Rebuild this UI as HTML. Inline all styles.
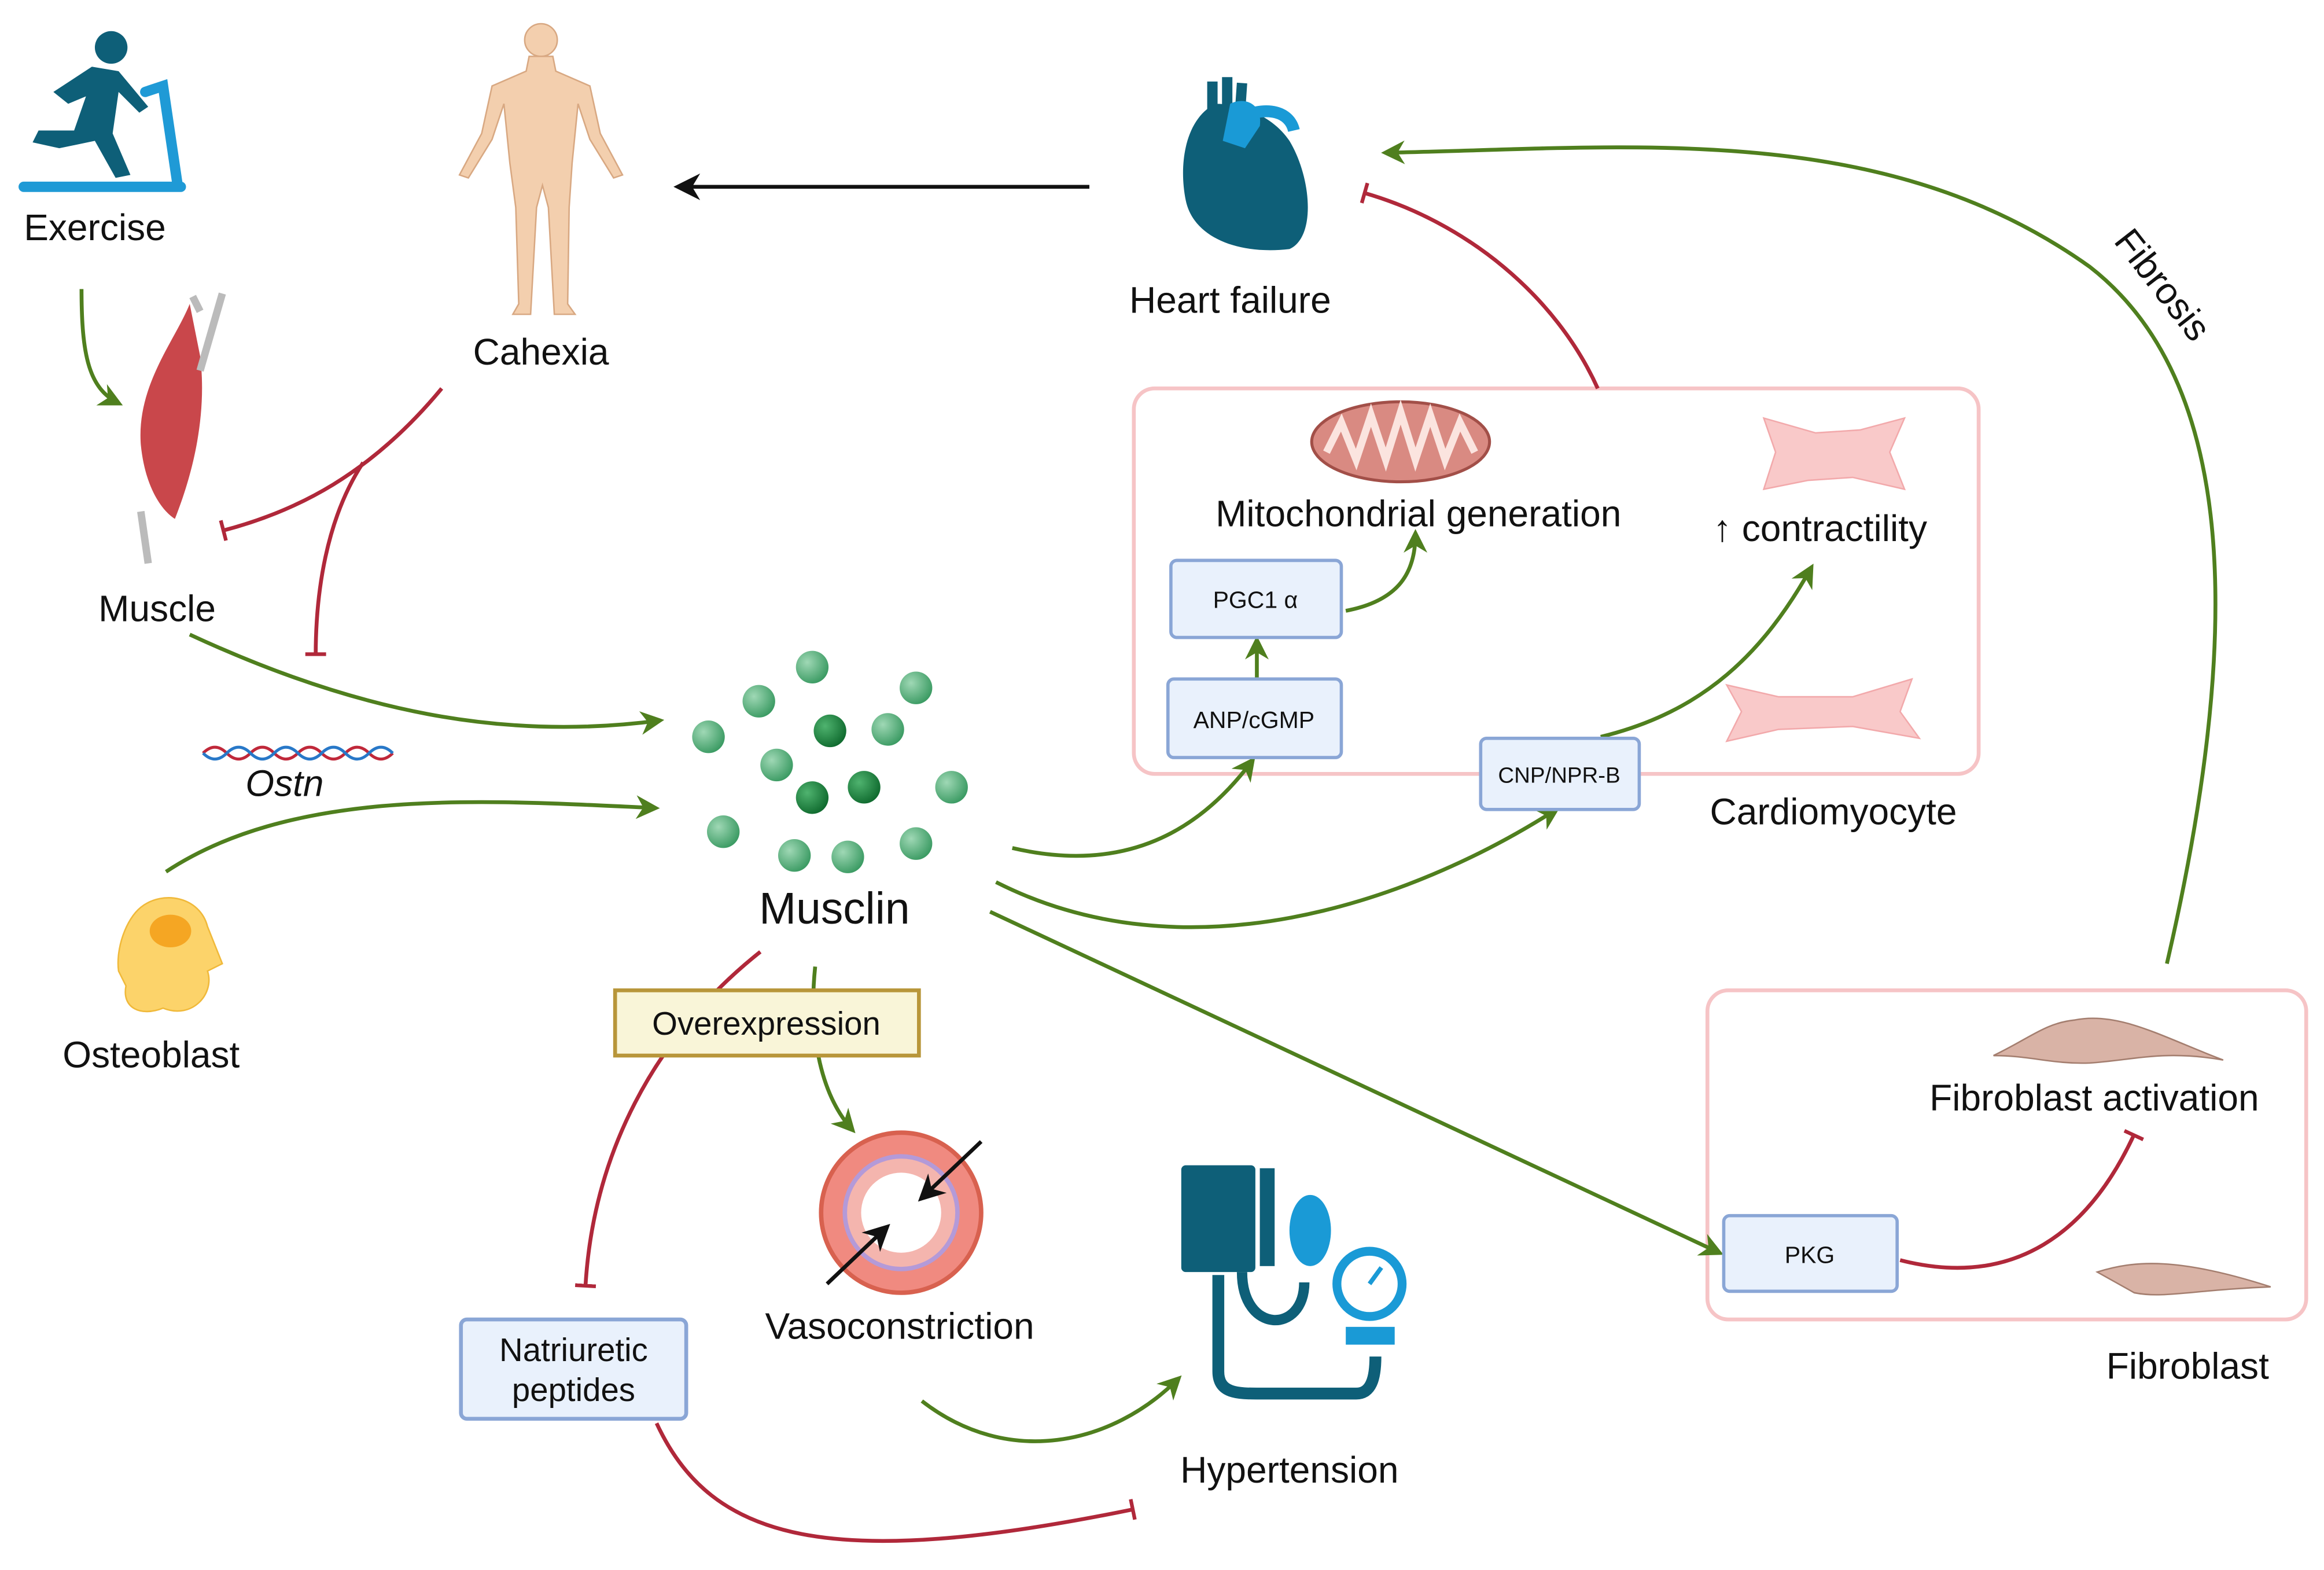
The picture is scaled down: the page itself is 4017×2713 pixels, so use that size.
<!DOCTYPE html>
<html><head><meta charset="utf-8"><style>
html,body{margin:0;padding:0;background:#fff;}
svg{display:block;}
text{font-family:"Liberation Sans",sans-serif;fill:#111;}
</style></head><body>
<svg width="4017" height="2713" viewBox="0 0 1568 1059" xmlns="http://www.w3.org/2000/svg">
<defs>
<marker id="ga" viewBox="0 0 10 10" markerWidth="16" markerHeight="16" refX="8" refY="5" orient="auto" markerUnits="userSpaceOnUse"><path d="M0,0 L10,5 L0,10 L3,5z" fill="#4f7f1e"/></marker>
<marker id="ka" viewBox="0 0 10 10" markerWidth="18" markerHeight="18" refX="8" refY="5" orient="auto" markerUnits="userSpaceOnUse"><path d="M0,0 L10,5 L0,10 L3,5z" fill="#111"/></marker>
<marker id="rb" viewBox="0 0 4 20" markerWidth="4" markerHeight="20" refX="2" refY="10" orient="auto" markerUnits="userSpaceOnUse"><rect x="0" y="3" width="2.5" height="14" fill="#b0283a"/></marker>
<radialGradient id="dot" cx="0.35" cy="0.35" r="0.7"><stop offset="0" stop-color="#9fd8b5"/><stop offset="1" stop-color="#3a9a62"/></radialGradient>
<radialGradient id="dotd" cx="0.35" cy="0.35" r="0.7"><stop offset="0" stop-color="#4fb36f"/><stop offset="1" stop-color="#0f6a2e"/></radialGradient>
</defs>
<g fill="none" stroke-width="2.6">
<rect x="765" y="262" width="570" height="260" rx="14" stroke="#f6c4c6"/>
<rect x="1152" y="668" width="404" height="222" rx="14" stroke="#f6c4c6"/>
<g stroke="#4f7f1e" marker-end="url(#ga)">
<path d="M55,195 C55,240 60,262 80,272"/>
<path d="M128,428 C240,480 340,500 445,486"/>
<path d="M112,588 C200,530 330,540 442,545"/>
<path d="M683,572 C760,590 810,560 845,513"/>
<path d="M672,595 C800,660 950,610 1050,546"/>
<path d="M668,615 L1160,845"/>
<path d="M848,458 L848,432"/>
<path d="M908,412 C945,405 955,385 955,360"/>
<path d="M1080,497 C1150,480 1190,440 1222,383"/>
<path d="M550,652 C545,700 555,740 575,762"/>
<path d="M622,945 C680,990 750,975 795,930"/>
<path d="M1462,650 C1520,400 1500,250 1410,180 C1270,80 1100,100 935,103"/>
</g>
<g stroke="#b0283a" marker-end="url(#rb)">
<path d="M1078,262 C1050,200 990,150 920,130"/>
<path d="M298,262 C250,320 200,345 150,358"/>
<path d="M245,312 C220,350 213,400 213,442"/>
<path d="M513,642 C440,700 400,780 395,868"/>
<path d="M1282,850 C1360,870 1410,830 1440,765"/>
<path d="M443,960 C480,1040 560,1060 765,1018"/>
</g>
<path d="M735,126 L458,126" stroke="#111" marker-end="url(#ka)"/>
</g>
<g font-size="16" text-anchor="middle">
<rect x="790" y="378" width="115" height="52" rx="4" fill="#e9f1fc" stroke="#8aa6d6" stroke-width="2.2"/><text x="847" y="410">PGC1 α</text>
<rect x="788" y="458" width="117" height="53" rx="4" fill="#e9f1fc" stroke="#8aa6d6" stroke-width="2.2"/><text x="846" y="491">ANP/cGMP</text>
<rect x="999" y="498" width="107" height="48" rx="4" fill="#e9f1fc" stroke="#8aa6d6" stroke-width="2.2"/><text x="1052" y="528" font-size="15">CNP/NPR-B</text>
<rect x="1163" y="820" width="117" height="51" rx="4" fill="#e9f1fc" stroke="#8aa6d6" stroke-width="2.2"/><text x="1221" y="852">PKG</text>
<rect x="311" y="890" width="152" height="67" rx="4" fill="#e9f1fc" stroke="#8aa6d6" stroke-width="2.6"/><text x="387" y="918" font-size="22">Natriuretic</text><text x="387" y="945" font-size="22">peptides</text>
<rect x="415" y="668" width="205" height="44" fill="#f9f5d8" stroke="#b8963a" stroke-width="2.6"/><text x="517" y="698" font-size="22">Overexpression</text>
</g>
<g font-size="25" text-anchor="middle">
<text x="64" y="162">Exercise</text>
<text x="365" y="246">Cahexia</text>
<text x="830" y="211">Heart failure</text>
<text x="957" y="355">Mitochondrial generation</text>
<text x="1228" y="365">↑ contractility</text>
<text x="1237" y="556">Cardiomyocyte</text>
<text x="106" y="419">Muscle</text>
<text x="192" y="537" font-style="italic">Ostn</text>
<text x="102" y="720">Osteoblast</text>
<text x="563" y="623" font-size="30">Musclin</text>
<text x="607" y="903">Vasoconstriction</text>
<text x="870" y="1000">Hypertension</text>
<text x="1413" y="749">Fibroblast activation</text>
<text x="1476" y="930">Fibroblast</text>
<text x="1458" y="200" transform="rotate(52 1458 193)">Fibrosis</text>
</g>
<g fill="#0e5f78">
<circle cx="75" cy="32" r="11"/>
<path d="M62,45 L80,48 L100,72 L94,76 L80,62 L76,90 L88,118 L78,120 L64,95 L40,100 L22,96 L26,88 L50,88 L58,65 L46,70 L36,62z"/>
</g>
<path d="M16,126 L122,126 M98,62 L110,58 L120,126" stroke="#1f9ad6" stroke-width="7" fill="none" stroke-linecap="round"/>
<g fill="#f3cfae" stroke="#d8a882" stroke-width="1">
<circle cx="365" cy="27" r="11"/>
<path d="M357,38 L373,38 L375,48 L398,58 L405,90 L420,118 L414,120 L398,94 L390,70 L386,110 L384,140 L383,205 L388,212 L374,212 L370,140 L366,125 L362,140 L358,212 L346,212 L350,205 L348,140 L344,110 L340,70 L332,94 L316,120 L310,118 L325,90 L332,58 L355,48z"/>
</g>
<g>
<path d="M820,70 C800,80 795,110 800,135 C805,160 835,172 870,168 C888,160 885,120 870,95 C860,80 840,70 820,70z" fill="#0e5f78"/>
<path d="M818,55 L818,90 M828,52 L828,88 M838,56 L836,85" stroke="#0e5f78" stroke-width="7"/>
<path d="M830,70 C840,65 852,70 850,85 L840,100 L825,95z" fill="#1a9ad6"/>
<path d="M840,78 C855,72 870,75 873,88" stroke="#1a9ad6" stroke-width="8" fill="none"/>
</g>
<g>
<path d="M128,205 C118,230 92,260 95,300 C98,330 110,345 118,350 C130,320 140,280 135,240z" fill="#c9474b"/>
<path d="M130,200 L135,210 M150,198 L135,250 M95,345 L100,380" stroke="#bbb" stroke-width="5"/>
</g>
<path d="M137,508 q8,-8 16,0 t16,0 t16,0 t16,0 t16,0 t16,0 t16,0 t16,0" stroke="#c0283a" stroke-width="2" fill="none"/>
<path d="M137,508 q8,8 16,0 t16,0 t16,0 t16,0 t16,0 t16,0 t16,0 t16,0" stroke="#2878c8" stroke-width="2" fill="none"/>
<path d="M95,612 C110,600 135,605 140,625 L150,650 L140,655 C145,670 130,688 110,680 C95,686 82,680 85,665 L80,655 C78,640 85,620 95,612z" fill="#fcd36a" stroke="#f0b93a"/>
<ellipse cx="115" cy="628" rx="14" ry="11" fill="#f5a623"/>
<g>
<circle cx="548" cy="450" r="11" fill="url(#dot)"/>
<circle cx="618" cy="464" r="11" fill="url(#dot)"/>
<circle cx="512" cy="473" r="11" fill="url(#dot)"/>
<circle cx="478" cy="497" r="11" fill="url(#dot)"/>
<circle cx="560" cy="493" r="11" fill="url(#dotd)"/>
<circle cx="599" cy="492" r="11" fill="url(#dot)"/>
<circle cx="524" cy="516" r="11" fill="url(#dot)"/>
<circle cx="548" cy="538" r="11" fill="url(#dotd)"/>
<circle cx="583" cy="531" r="11" fill="url(#dotd)"/>
<circle cx="642" cy="531" r="11" fill="url(#dot)"/>
<circle cx="488" cy="561" r="11" fill="url(#dot)"/>
<circle cx="618" cy="569" r="11" fill="url(#dot)"/>
<circle cx="536" cy="577" r="11" fill="url(#dot)"/>
<circle cx="572" cy="578" r="11" fill="url(#dot)"/>
</g>
<g>
<ellipse cx="945" cy="298" rx="60" ry="27" fill="#d98a82" stroke="#a24f48" stroke-width="2"/>
<path d="M895,305 L905,285 L915,310 L925,280 L935,310 L945,278 L955,310 L965,280 L975,310 L985,285 L995,305" stroke="#fbe4df" stroke-width="5" fill="none"/>
</g>
<path d="M1190,282 L1225,292 L1255,290 L1285,282 L1275,305 L1285,330 L1250,322 L1220,324 L1190,330 L1198,305z" fill="#f9c9c9" stroke="#f2a9ab"/>
<path d="M1165,462 L1200,470 L1250,470 L1290,458 L1282,480 L1295,498 L1250,490 L1200,492 L1165,500 L1175,480z" fill="#f9c9c9" stroke="#f2a9ab"/>
<path d="M1345,712 C1370,700 1380,690 1400,688 C1430,682 1460,700 1500,715 C1460,708 1440,715 1410,717 C1385,718 1370,712 1345,712z" fill="#d9b3a6" stroke="#a47e6f"/>
<path d="M1415,858 C1440,850 1470,848 1532,868 C1480,870 1460,876 1440,872z" fill="#d9b3a6" stroke="#a47e6f"/>
<circle cx="608" cy="818" r="54" fill="#f08a80" stroke="#d8614f" stroke-width="3"/>
<circle cx="608" cy="818" r="38" fill="#f4b5ae" stroke="#b49ad8" stroke-width="3"/>
<circle cx="608" cy="818" r="27" fill="#fff"/>
<path d="M662,770 L622,808" stroke="#111" stroke-width="2.6" marker-end="url(#ka)"/>
<path d="M558,866 L598,828" stroke="#111" stroke-width="2.6" marker-end="url(#ka)"/>
<g>
<rect x="797" y="786" width="50" height="72" rx="3" fill="#0e5f78"/>
<rect x="850" y="788" width="10" height="66" fill="#0e5f78"/>
<path d="M822,860 L822,925 C822,940 835,940 850,940 L915,940 C925,940 928,930 928,915" stroke="#0e5f78" stroke-width="8" fill="none"/>
<path d="M838,858 C838,900 880,900 880,865" stroke="#0e5f78" stroke-width="7" fill="none"/>
<ellipse cx="884" cy="830" rx="14" ry="24" fill="#1a9ad6"/>
<circle cx="924" cy="866" r="22" fill="none" stroke="#1a9ad6" stroke-width="6"/>
<path d="M924,866 L932,855" stroke="#1a9ad6" stroke-width="3"/>
<rect x="908" y="895" width="33" height="12" fill="#1a9ad6"/>
</g>
</svg>
</body></html>
